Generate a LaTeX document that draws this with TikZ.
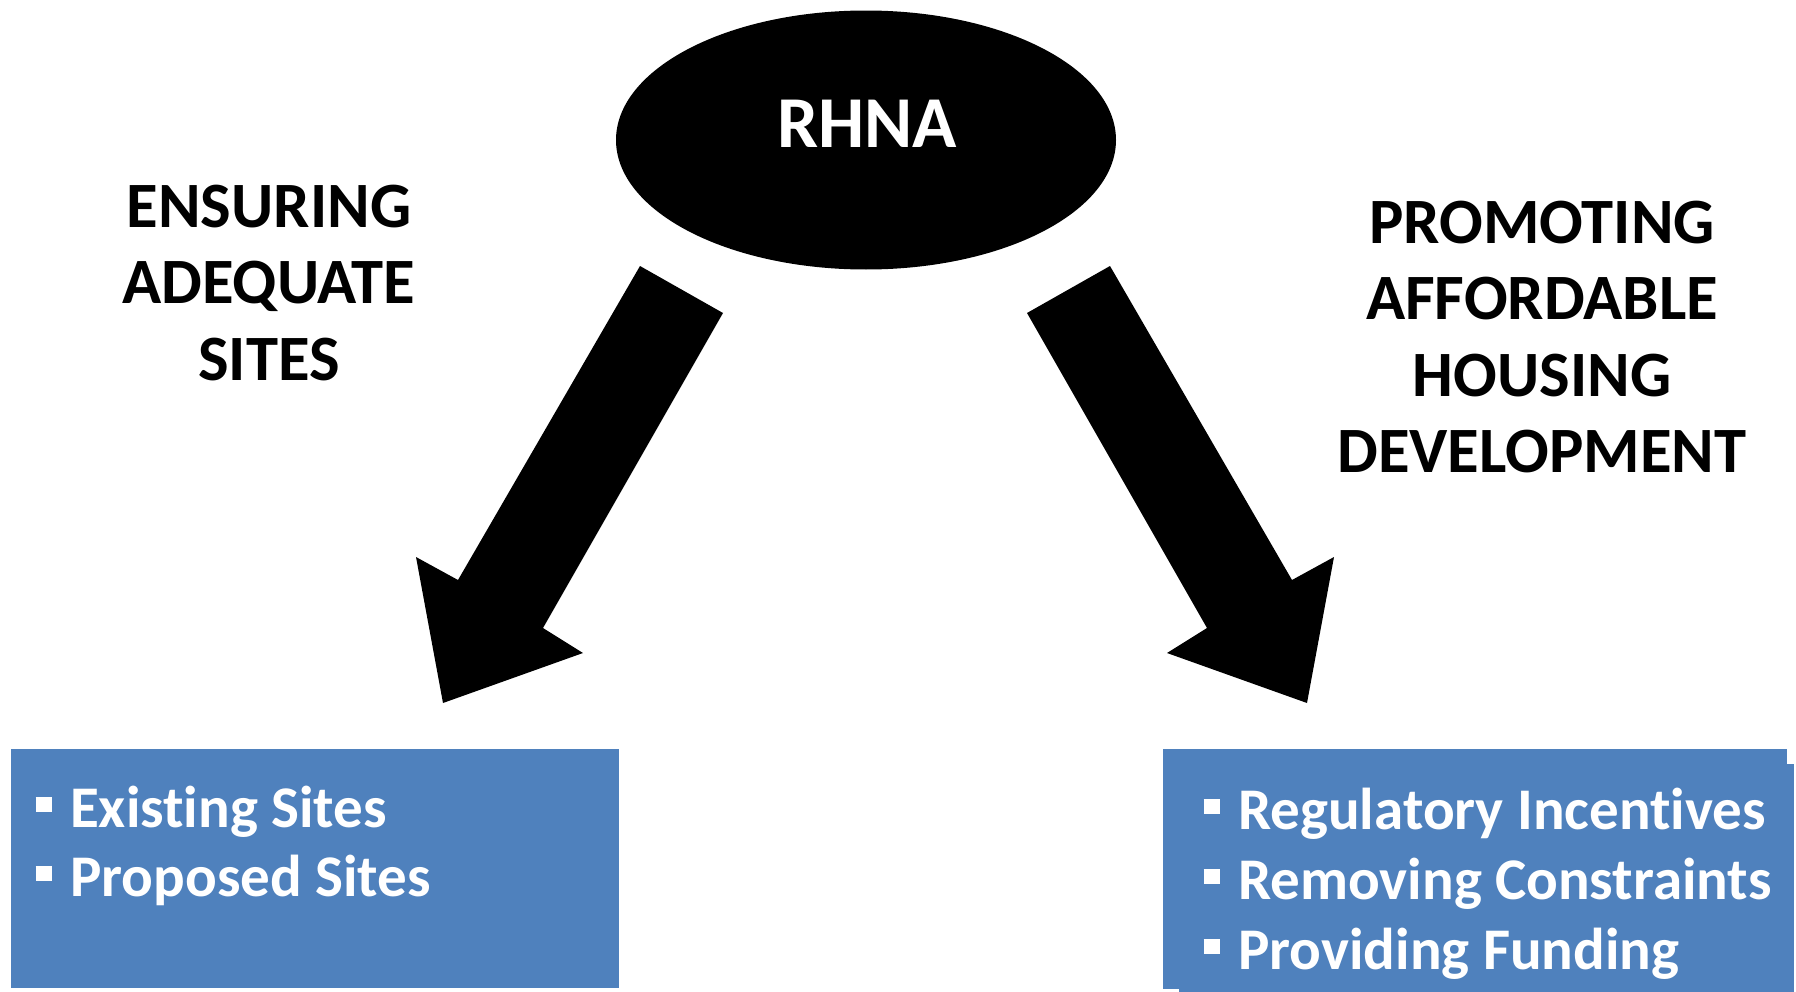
\documentclass[tikz,border=0pt]{standalone}
\usepackage{fontspec}
\setmainfont{Carlito}[Ligatures = CommonOff]
\usetikzlibrary{shapes.geometric}
\usetikzlibrary{positioning}
\tikzset{hub/.style = {fill, ellipse, inner sep = 0, minimum width = 5cm, minimum height = 2.59cm}}
\tikzset{heading/.style = {align = center, inner sep = 0, font = \fontsize{18.4}{21.8}\selectfont\bfseries}}
\tikzset{item/.style = {anchor = base west, inner sep = 0, text = white, font = \fontsize{16.8}{20}\selectfont\bfseries}}
\tikzset{panel/.style = {fill = mblue, inner sep = 0, outer sep = 0}}
\definecolor{mblue}{HTML}{4F81BD}
\newcommand{\sqbullet}{\rule[4.3pt]{4.6pt}{4.3pt}\hspace{5.2pt}}

\begin{document}
\begin{tikzpicture}[x = 0.1mm, y = -0.1mm]
      \useasboundingbox (0, 0) rectangle (1796, 992);

      \node [hub] (rhna) at (866, 140) {};
      \node [inner sep = 0, text = white, font = \fontsize{20.8}{24}\selectfont\bfseries] (rhnalbl) at (867, 124) {RHNA};

      \node [heading] (sites) at (269, 283) {ENSURING\\ADEQUATE\\SITES};
      \node [heading] (afford) at (1542, 337) {PROMOTING\\AFFORDABLE\\HOUSING\\DEVELOPMENT};

      \fill (640, 266) -- (723, 313) -- (543, 628) -- (583, 653) -- (443, 703) -- (416, 557) -- (458, 580) -- cycle;
      \fill (1110, 266) -- (1027, 313) -- (1207, 628) -- (1167, 653) -- (1307, 703) -- (1334, 557) -- (1292, 580) -- cycle;

      \node [panel, minimum width = 6.08cm, minimum height = 2.39cm] (lpanel) at (315, 868.5) {};
      \node [panel, minimum width = 6.15cm, minimum height = 2.28cm] (rshadow) at (1486.5, 878) {};
      \node [panel, minimum width = 6.24cm, minimum height = 2.40cm] (rpanel) at (1475, 869) {};

      \foreach \t [count = \i] in {Existing Sites, Proposed Sites} {
        \node [item] (l\i) at (35, {827 + 69*(\i - 1)}) {\sqbullet\t};
      }
      \foreach \t [count = \i] in {Regulatory Incentives, Removing Constraints, Providing Funding} {
        \node [item] (r\i) at (1203, {829 + 70*(\i - 1)}) {\sqbullet\t};
      }

    \end{tikzpicture}
\end{document}
